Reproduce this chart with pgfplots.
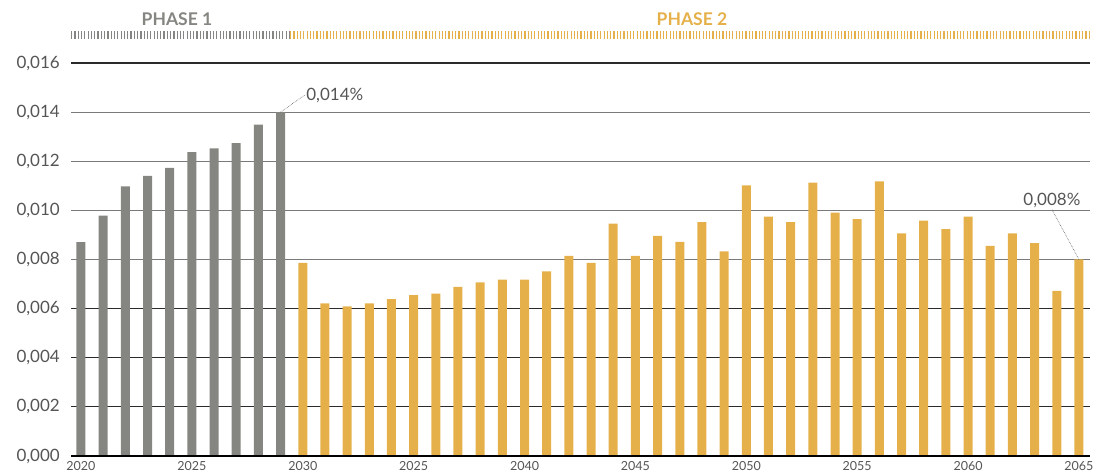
\documentclass[border=0pt]{standalone}
\usepackage{pgfplots}
\pgfplotsset{compat=1.18}
\usepackage{fontspec}
\setmainfont{Lato}
\definecolor{pgray}{HTML}{858681}
\definecolor{pyellow}{HTML}{E5B04A}
\definecolor{txt}{HTML}{555555}
\definecolor{gridlight}{HTML}{7A7A7A}
\definecolor{griddark}{HTML}{2A2A2A}
\begin{document}
\begin{tikzpicture}
\path[use as bounding box] (0bp,0bp) rectangle (1104bp,475bp);
\begin{axis}[
  at={(71bp,19bp)}, anchor=south west,
  scale only axis, width=1019bp, height=393bp,
  xmin=2019.55, xmax=2065.5, ymin=0, ymax=0.016,
  clip=false,
  axis line style={draw=none},
  major tick length=0pt,
  ytick={0,0.002,0.004,0.006,0.016},
  extra y ticks={0.008,0.010,0.012,0.014},
  extra y tick style={major grid style={draw=gridlight, line width=1.1bp}},
  ymajorgrids, major grid style={draw=griddark, line width=1.1bp},
  scaled y ticks=false,
  /pgf/number format/fixed,
  /pgf/number format/fixed zerofill,
  /pgf/number format/precision=3,
  /pgf/number format/use comma,
  /pgf/number format/assume math mode=true,
  yticklabel style={font=\fontsize{17bp}{20bp}\selectfont, text=txt, anchor=east, inner sep=0pt, xshift=-11bp},
  xtick={2020,2025,2030,2035,2040,2045,2050,2055,2060,2065},
  xticklabels={2020,2025,2030,2025,2040,2045,2050,2055,2060,2065},
  xticklabel style={font=\fontsize{12.5bp}{15bp}\selectfont, text=txt, anchor=north, inner sep=0pt, yshift=-5bp},
]
\addplot[ybar, bar width=9bp, fill=pgray, draw=none] coordinates {
(2020,0.00871) (2021,0.00979) (2022,0.01098) (2023,0.01140) (2024,0.01173)
(2025,0.01237) (2026,0.01252) (2027,0.01274) (2028,0.01349) (2029,0.01400)};
\addplot[ybar, bar width=9bp, fill=pyellow, draw=none] coordinates {
(2030,0.00786) (2031,0.00621) (2032,0.00609) (2033,0.00621) (2034,0.00639)
(2035,0.00655) (2036,0.00661) (2037,0.00689) (2038,0.00707) (2039,0.00718)
(2040,0.00718) (2041,0.00752) (2042,0.00815) (2043,0.00786) (2044,0.00946)
(2045,0.00815) (2046,0.00896) (2047,0.00872) (2048,0.00952) (2049,0.00833)
(2050,0.01102) (2051,0.00975) (2052,0.00952) (2053,0.01113) (2054,0.00991)
(2055,0.00964) (2056,0.01118) (2057,0.00906) (2058,0.00958) (2059,0.00924)
(2060,0.00975) (2061,0.00855) (2062,0.00906) (2063,0.00867) (2064,0.00672)
(2065,0.00800)};
\draw[black, line width=2.6bp] (axis cs:2019.55,0) -- (axis cs:2065.5,0);
\draw[densely dotted, txt, line width=0.6bp] (axis cs:2029,0.014) -- ++(24bp,17bp)
  node[anchor=west, inner sep=1.5bp, font=\fontsize{17bp}{20bp}\selectfont, text=txt] {0,014\%};
\draw[densely dotted, txt, line width=0.6bp] (axis cs:2065,0.0080) -- ++(-27bp,50bp)
  node[anchor=south, inner sep=1.5bp, font=\fontsize{17bp}{20bp}\selectfont, text=txt] {0,008\%};
\end{axis}
\draw[pgray, line width=8bp, dash pattern=on 1.2bp off 2.1bp] (71bp,440bp) -- (289bp,440bp);
\draw[pyellow, line width=8bp, dash pattern=on 1.2bp off 2.1bp] (290bp,440bp) -- (1090bp,440bp);
\node[font=\bfseries\fontsize{17.5bp}{20bp}\selectfont, text=pgray] at (177bp,456bp) {PHASE 1};
\node[font=\bfseries\fontsize{17.5bp}{20bp}\selectfont, text=pyellow] at (692bp,456bp) {PHASE 2};
\end{tikzpicture}
\end{document}
